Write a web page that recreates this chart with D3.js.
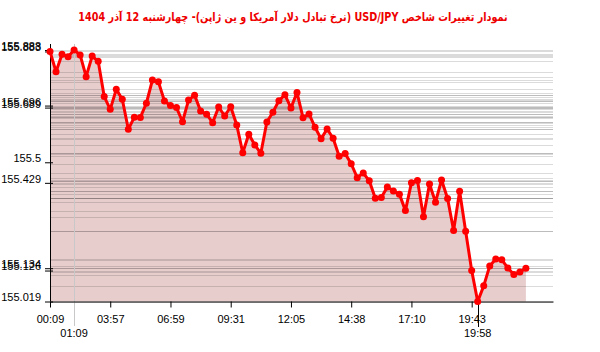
<!DOCTYPE html>
<html>
<head>
<meta charset="utf-8">
<script src="https://cdn.jsdelivr.net/npm/d3@7/dist/d3.min.js"></script>
<style>
  body { margin: 0; background: #fff; }
  svg { display: block; }
  .lbl { font-family: "Liberation Sans", Arial, sans-serif; font-size: 11px; fill: #000; }
</style>
</head>
<body>
<svg id="chart" width="600" height="352"></svg>
<script>
const title = "نمودار تغییرات شاخص USD/JPY (نرخ تبادل دلار آمریکا و ین ژاپن)- چهارشنبه  12 آذر 1404";

// one value per quote, in time order
const values = [
  155.883, 155.813, 155.873, 155.865, 155.888, 155.871, 155.796, 155.867, 155.849, 155.727,
  155.683, 155.752, 155.718, 155.614, 155.656, 155.655, 155.704, 155.784, 155.778, 155.712,
  155.696, 155.689, 155.640, 155.715, 155.732, 155.677, 155.666, 155.637, 155.691, 155.660,
  155.692, 155.629, 155.533, 155.597, 155.560, 155.531, 155.639, 155.673, 155.713, 155.733,
  155.688, 155.741, 155.654, 155.667, 155.621, 155.581, 155.615, 155.583, 155.521, 155.530,
  155.495, 155.447, 155.463, 155.436, 155.376, 155.378, 155.415, 155.401, 155.390, 155.333,
  155.429, 155.437, 155.312, 155.425, 155.362, 155.439, 155.375, 155.264, 155.400, 155.262,
  155.126, 155.019, 155.073, 155.142, 155.166, 155.163, 155.135, 155.112, 155.121, 155.134
];

// x axis: every 10th quote gets a time label
const tickIndex = [0, 10, 20, 30, 40, 50, 60, 70];
const tickTimes = ["00:09", "03:57", "06:59", "09:31", "12:05", "14:38", "17:10", "19:43"];
const maxTime = "01:09";
const minTime = "19:58";

// y axis labels
const yLabels = [155.888, 155.883, 155.696, 155.689, 155.5, 155.429, 155.134, 155.126, 155.019];

const svg = d3.select("#chart");
const plotLeft = 50, plotRight = 553, plotTop = 50, plotBottom = 301.5;

const x = d3.scaleLinear().domain([0, 83.5]).range([plotLeft, plotRight]);
const y = d3.scaleLinear().domain(d3.extent(values)).range([plotBottom, plotTop]);

const maxIdx = d3.maxIndex(values), minIdx = d3.minIndex(values);

// title (squeezed sideways to the reference width)
svg.append("text")
  .attr("transform", "translate(293,21) scale(0.84,1)")
  .attr("text-anchor", "middle")
  .attr("direction", "rtl")
  .style("font-family", "'DejaVu Sans', sans-serif")
  .style("font-size", "11.5px")
  .style("font-weight", "bold")
  .attr("fill", "#ee0000")
  .text(title);

// area under the line
const area = d3.area()
  .x((d, i) => x(i))
  .y0(plotBottom)
  .y1(d => y(d));
svg.append("path")
  .datum(values)
  .attr("d", area)
  .attr("fill", "#e8cdcd");

// horizontal grid line at every value
svg.append("g")
  .selectAll("line")
  .data(values)
  .join("line")
  .attr("x1", plotLeft).attr("x2", plotRight)
  .attr("y1", d => Math.round(y(d)) + 0.5)
  .attr("y2", d => Math.round(y(d)) + 0.5)
  .attr("stroke", "#000")
  .attr("stroke-opacity", 0.14);

// vertical marker at the max
svg.append("line")
  .attr("x1", Math.round(x(maxIdx)) + 0.5).attr("x2", Math.round(x(maxIdx)) + 0.5)
  .attr("y1", 44).attr("y2", 326)
  .attr("stroke", "#c8c8c8");

// axes
const yAxis = d3.axisLeft(y)
  .tickValues(yLabels)
  .tickFormat(d3.format(".3~f"))
  .tickSize(5)
  .tickPadding(4);
const gy = svg.append("g")
  .attr("transform", `translate(${plotLeft},0)`)
  .call(yAxis);
gy.select(".domain").remove();
gy.selectAll(".tick line").attr("x2", -5).attr("x1", 3).attr("stroke", "#000");
gy.selectAll(".tick text")
  .attr("x", -9)
  .attr("dy", "-0.05em")
  .style("font-size", "11px")
  .style("font-family", "'Liberation Sans', Arial, sans-serif");

svg.append("line")
  .attr("x1", plotLeft + 0.5).attr("x2", plotLeft + 0.5)
  .attr("y1", 44).attr("y2", plotBottom)
  .attr("stroke", "#000");

const xAxis = d3.axisBottom(x)
  .tickValues(tickIndex)
  .tickFormat((d, i) => tickTimes[i])
  .tickSize(6)
  .tickPadding(8)
  .tickSizeOuter(0);
const gx = svg.append("g")
  .attr("transform", `translate(0,${plotBottom})`)
  .call(xAxis);
gx.select(".domain").attr("stroke", "#000");
gx.selectAll(".tick text")
  .style("font-size", "11px")
  .style("font-family", "'Liberation Sans', Arial, sans-serif");

// second row labels for max and min times
svg.append("text")
  .attr("class", "lbl")
  .attr("x", x(maxIdx)).attr("y", 337)
  .attr("text-anchor", "middle")
  .text(maxTime);
svg.append("line")
  .attr("x1", Math.round(x(minIdx)) + 0.5).attr("x2", Math.round(x(minIdx)) + 0.5)
  .attr("y1", plotBottom).attr("y2", 327)
  .attr("stroke", "#000");
svg.append("text")
  .attr("class", "lbl")
  .attr("x", x(minIdx)).attr("y", 337)
  .attr("text-anchor", "middle")
  .text(minTime);

// line and points
const line = d3.line()
  .x((d, i) => x(i))
  .y(d => y(d));
svg.append("path")
  .datum(values)
  .attr("d", line)
  .attr("fill", "none")
  .attr("stroke", "#f00")
  .attr("stroke-width", 3)
  .attr("stroke-linejoin", "round");
svg.append("g")
  .selectAll("circle")
  .data(values)
  .join("circle")
  .attr("cx", (d, i) => x(i))
  .attr("cy", d => y(d))
  .attr("r", 3.5)
  .attr("fill", "#f00");
</script>
</body>
</html>
